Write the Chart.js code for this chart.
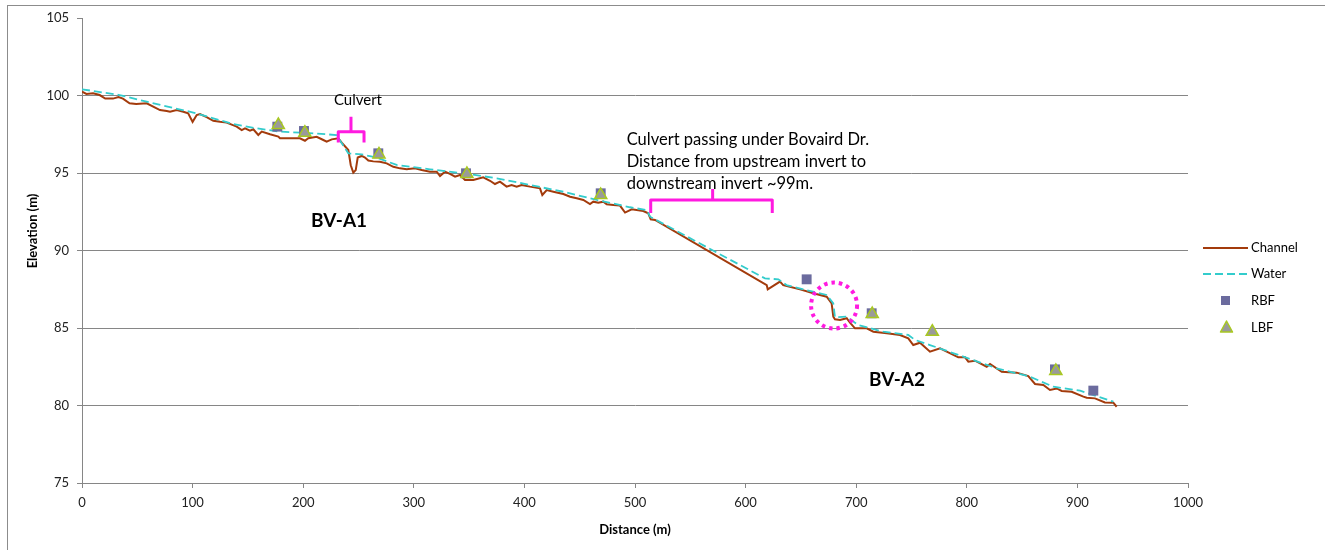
<!DOCTYPE html>
<html>
<head>
<meta charset="utf-8">
<title>Channel profile</title>
<script src="https://cdn.jsdelivr.net/npm/chart.js"></script>
<style>
  body { margin: 0; background: white; }
  canvas { display: block; }
</style>
</head>
<body>
<canvas id="profile" width="1325" height="550"></canvas>
<script>
// channel bed profile (distance m, elevation m)
const channelDist = [0,4,10,16,21,28,33,37,43,49,58.5,70.5,76.6,79.6,85.6,91.6,96,100,103.7,106.7,112.7,118.7,124.8,130.8,139.9,144.4,147.4,151.9,154.9,159.4,162.5,170,177.5,179,197,201.6,204.6,212.2,218.2,221.2,225.8,231.8,234.8,240.8,243,245.3,247.5,249.3,252.9,255.9,258.9,263.4,269.4,275.5,281.5,287.5,293.6,301.1,307.1,314.6,320.7,323.7,328.2,332.7,337.3,341.8,346.3,353.8,362.8,368.9,373.4,377.9,383.9,388.4,393,397.5,405,414.1,416.2,420.2,426.2,435.2,441.3,447.3,453.3,459.3,462.3,466.8,471.4,474.4,480.4,486.4,491,497,507.5,512,514.2,518.1,619.1,620,631.1,634,649.2,661.2,673.3,677.8,679.3,680.8,685.4,691.4,694.4,698.9,709.5,715.5,727.6,739.6,747.1,751.6,757.7,766.7,775.8,792.3,798.4,801.4,807.4,818,821,831.6,845.1,855.6,861.7,869.2,875.2,881.3,885.8,894.8,905.4,908.4,915.9,924.9,932.5,935.5];
const channelElev = [100.25,100.1,100.14,100.03,99.8,99.8,99.9,99.8,99.5,99.45,99.5,99.06,99.0,98.95,99.06,98.95,98.85,98.3,98.74,98.8,98.6,98.37,98.3,98.25,97.99,97.77,97.88,97.73,97.82,97.45,97.67,97.5,97.35,97.24,97.24,97.08,97.24,97.34,97.13,97.02,97.17,97.24,96.96,96.48,95.5,95.02,95.19,96.0,96.1,96.0,95.8,95.75,95.73,95.62,95.4,95.3,95.24,95.3,95.19,95.08,95.08,94.8,95.08,94.94,94.76,94.87,94.55,94.55,94.72,94.5,94.29,94.44,94.12,94.23,94.12,94.23,94.12,94.01,93.58,93.9,93.79,93.64,93.47,93.37,93.26,93.0,93.15,93.08,93.15,92.98,92.94,92.9,92.45,92.66,92.55,92.4,92.01,91.97,87.77,87.49,87.99,87.77,87.49,87.24,87.02,86.59,85.73,85.56,85.52,85.63,85.34,84.98,84.98,84.76,84.66,84.55,84.33,83.9,84.05,83.47,83.69,83.11,83.11,82.83,82.89,82.5,82.68,82.18,82.12,81.9,81.39,81.32,81.0,81.1,80.94,80.89,80.57,80.5,80.46,80.2,80.18,79.92];

// water surface
const waterDist = [0,34,58.5,100.6,136.8,158,179,209,230,240.8,252.9,266.4,284.5,314.6,344.8,375,405,435.2,465.4,495.5,510.5,513.6,617.5,629.6,637,661,673.3,679.3,680.8,691.4,701.9,724.5,747.1,753.2,766.7,796.9,827,857.1,878.2,902.4,932.5];
const waterElev = [100.4,100.03,99.6,98.9,98.16,97.88,97.67,97.56,97.45,96.27,96.2,96.0,95.52,95.24,94.98,94.66,94.23,93.79,93.26,92.79,92.61,92.18,88.2,88.14,87.77,87.34,87.13,86.59,85.69,85.73,85.19,84.76,84.55,84.23,83.9,83.15,82.4,81.86,81.21,80.96,80.25];

// right / left bankfull
const rbfDist = [176.6,200.7,267.9,347.2,469,655.2,714,879.7,914.4];
const rbfElev = [97.99,97.71,96.27,94.98,93.69,88.14,85.95,82.33,80.96];
const lbfDist = [177.5,201.5,268.5,348,469,714.5,768.8,880.5];
const lbfElev = [98.1,97.6,96.2,94.94,93.58,85.9,84.76,82.23];

const xTicks = [0,100,200,300,400,500,600,700,800,900,1000];
const yTicks = [75,80,85,90,95,100,105];

const toPts = (xs, ys) => xs.map((x, i) => ({ x: x, y: ys[i] }));

const BROWN = '#A33B0C';
const CYAN = '#33CCCC';
const PURPLE = '#6B6B9E';
const TRI_FILL = '#9A9A9A';
const TRI_EDGE = '#A8C820';
const MAGENTA = '#FF1AE0';
const AXIS = '#868686';
const FONT = 'Lato, "Open Sans", sans-serif';

const extras = {
  id: 'extras',
  beforeDraw(chart) {
    const c = chart.ctx;
    c.save();
    c.fillStyle = '#fff';
    c.fillRect(0, 0, chart.width, chart.height);
    c.strokeStyle = '#8c8c8c';
    c.lineWidth = 1;
    c.strokeRect(7.5, 5.5, 1400, 600);
    c.restore();
  },
  afterDraw(chart) {
    const c = chart.ctx;
    const xs = chart.scales.x, ys = chart.scales.y;
    const px = v => xs.getPixelForValue(v);
    const py = v => ys.getPixelForValue(v);
    const area = chart.chartArea;
    c.save();

    // axis titles
    c.fillStyle = '#000';
    c.font = 'bold 13px ' + FONT;
    c.textAlign = 'center';
    c.textBaseline = 'middle';
    c.fillText('Distance (m)', (area.left + area.right) / 2, 530);
    c.save();
    c.translate(33, 231);
    c.rotate(-Math.PI / 2);
    c.fillText('Elevation (m)', 0, 0);
    c.restore();

    // annotations
    c.font = '15px ' + FONT;
    c.fillText('Culvert', px(249.5), py(99.71));
    c.textAlign = 'left';
    c.font = '16.5px ' + FONT;
    c.fillText('Culvert passing under Bovaird Dr.', px(492.5), py(97.13));
    c.fillText('Distance from upstream invert to', px(492.5), py(95.73));
    c.fillText('downstream invert ~99m.', px(492.5), py(94.34));
    c.textAlign = 'center';
    c.font = 'bold 19px ' + FONT;
    c.fillText('BV-A1', px(232.4), py(91.9));
    c.fillText('BV-A2', px(736.9), py(81.65));

    // brackets
    c.strokeStyle = MAGENTA;
    c.lineWidth = 3;
    c.lineJoin = 'round';
    const bracket = (l, r, m, top, tip, bot) => {
      c.beginPath();
      c.moveTo(px(l), py(bot));
      c.lineTo(px(l), py(top));
      c.lineTo(px(r), py(top));
      c.lineTo(px(r), py(bot));
      c.moveTo(px(m), py(top));
      c.lineTo(px(m), py(tip));
      c.stroke();
    };
    bracket(231.7, 255, 243.2, 97.66, 98.63, 96.97);
    bracket(514.2, 624.1, 570.2, 93.26, 93.97, 92.42);

    // dotted circle
    c.setLineDash([3.5, 4]);
    c.lineWidth = 4;
    c.beginPath();
    c.arc(px(680), py(86.45), 23, 0, Math.PI * 2);
    c.stroke();
    c.setLineDash([]);

    // legend
    const lx = 1203, tx = 1251;
    c.font = '13px ' + FONT;
    c.fillStyle = '#000';
    c.textAlign = 'left';
    c.strokeStyle = BROWN;
    c.lineWidth = 2;
    c.beginPath(); c.moveTo(lx, 248); c.lineTo(1248, 248); c.stroke();
    c.fillText('Channel', tx, 248);
    c.strokeStyle = CYAN;
    c.setLineDash([8, 4]);
    c.beginPath(); c.moveTo(lx, 274); c.lineTo(1248, 274); c.stroke();
    c.setLineDash([]);
    c.fillText('Water', tx, 274);
    c.fillStyle = PURPLE;
    c.fillRect(1221, 296, 9, 9);
    c.fillStyle = '#000';
    c.fillText('RBF', tx, 301);
    c.fillStyle = TRI_FILL;
    c.strokeStyle = TRI_EDGE;
    c.lineWidth = 1.5;
    c.beginPath();
    c.moveTo(1226.5, 321); c.lineTo(1232.5, 332); c.lineTo(1220.5, 332); c.closePath();
    c.fill(); c.stroke();
    c.fillStyle = '#000';
    c.fillText('LBF', tx, 328);
    c.restore();
  }
};

new Chart(document.getElementById('profile'), {
  type: 'scatter',
  data: {
    datasets: [
      {
        label: 'Channel', data: toPts(channelDist, channelElev), showLine: true,
        borderColor: BROWN, borderWidth: 2, pointRadius: 0, tension: 0, order: 4
      },
      {
        label: 'Water', data: toPts(waterDist, waterElev), showLine: true,
        borderColor: CYAN, borderWidth: 1.8, borderDash: [8, 4], pointRadius: 0, tension: 0, order: 3
      },
      {
        label: 'RBF', data: toPts(rbfDist, rbfElev), pointStyle: 'rect',
        pointRadius: 7, backgroundColor: PURPLE, borderColor: PURPLE, borderWidth: 0, order: 2
      },
      {
        label: 'LBF', data: toPts(lbfDist, lbfElev), pointStyle: 'triangle',
        pointRadius: 7, backgroundColor: TRI_FILL, borderColor: TRI_EDGE, borderWidth: 1.5, order: 1
      }
    ]
  },
  options: {
    responsive: false,
    animation: false,
    layout: { padding: { top: 18, right: 137, left: 0, bottom: 0 } },
    plugins: { legend: { display: false }, tooltip: { enabled: false } },
    scales: {
      x: {
        type: 'linear', min: 0, max: 1000,
        afterBuildTicks: s => { s.ticks = xTicks.map(v => ({ value: v })); },
        afterFit: s => { s.height = 67; },
        ticks: { color: '#222', font: { family: FONT, size: 13 }, padding: 7, maxRotation: 0,
                 callback: v => String(v) },
        grid: { drawOnChartArea: false, tickLength: 5, color: AXIS },
        border: { color: AXIS }
      },
      y: {
        min: 75, max: 105,
        afterBuildTicks: s => { s.ticks = yTicks.map(v => ({ value: v })); },
        afterFit: s => { s.width = 82; },
        ticks: { color: '#222', font: { family: FONT, size: 13 }, padding: 8,
                 callback: v => String(v) },
        grid: {
          tickLength: 5, tickColor: AXIS,
          color: ctx => (ctx.tick && ctx.tick.value === 105) ? 'rgba(0,0,0,0)' : AXIS
        },
        border: { color: AXIS }
      }
    }
  },
  plugins: [extras]
});
</script>
</body>
</html>
